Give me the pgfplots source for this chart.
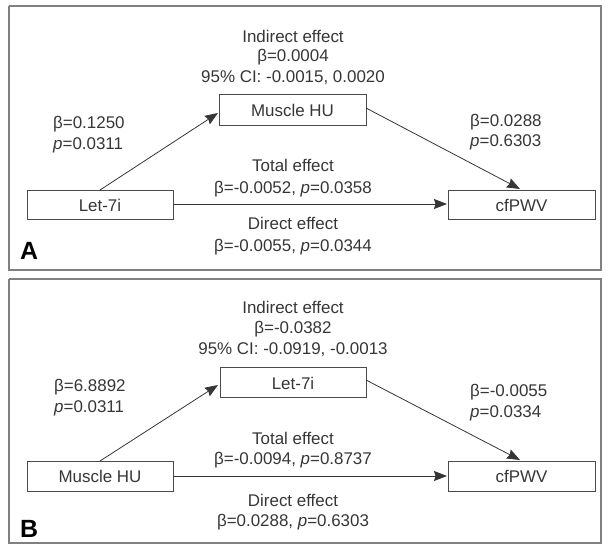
\documentclass[border=0pt]{standalone}
\usepackage{pgfplots}
\pgfplotsset{compat=1.18}
\usepackage{fontspec}
\setmainfont{Liberation Sans}
\usetikzlibrary{arrows.meta}
\definecolor{txt}{HTML}{363636}
\definecolor{frm}{HTML}{808080}
\tikzset{lab/.style={font=\fontsize{17}{19}\selectfont, text=txt, inner sep=0pt, anchor=center},
  labw/.style={lab, anchor=west},
  pan/.style={font=\fontsize{25}{27}\selectfont\bfseries, text=black, inner sep=0pt, anchor=west},
  arr/.style={draw=txt, line width=0.8bp, -{Stealth[length=13bp,width=10bp,inset=1.5bp]}},
  box/.style={draw=txt!90, line width=1bp},
  fr/.style={draw=frm, line width=1.5bp}}
\begin{document}
\begin{tikzpicture}
\begin{axis}[scale only axis, width=608bp, height=545bp,
  xmin=0, xmax=608, ymin=0, ymax=545, y dir=reverse,
  hide axis, clip=false]
% invisible extent
\addplot[draw=none] coordinates {(0,0) (608,545)};
% ---------- Panel A ----------
\addplot[fr] coordinates {(9,6) (601,6) (601,270) (9,270) (9,6)};
\addplot[box] coordinates {(219,95) (366,95) (366,125) (219,125) (219,95)};
\addplot[box] coordinates {(27,190) (173,190) (173,219) (27,219) (27,190)};
\addplot[box] coordinates {(448,190) (595,190) (595,219) (448,219) (448,190)};
\addplot[arr] coordinates {(100,190) (218,113)};
\addplot[arr] coordinates {(366,108) (520,189)};
\addplot[arr] coordinates {(173,204) (447,204)};
\node[lab] at (axis cs:293,36) {Indirect effect};
\node[lab] at (axis cs:293,57) {β=0.0004};
\node[lab] at (axis cs:293,78) {95\% CI: -0.0015, 0.0020};
\node[lab] at (axis cs:292.5,110) {Muscle HU};
\node[labw] at (axis cs:53,124) {β=0.1250};
\node[labw] at (axis cs:53,145) {\textit{p}=0.0311};
\node[labw] at (axis cs:470,122) {β=0.0288};
\node[labw] at (axis cs:470,142) {\textit{p}=0.6303};
\node[lab] at (axis cs:293,165) {Total effect};
\node[lab] at (axis cs:293,189) {β=-0.0052, \textit{p}=0.0358};
\node[lab] at (axis cs:100,205) {Let-7i};
\node[lab] at (axis cs:521.5,205) {cfPWV};
\node[lab] at (axis cs:293,223) {Direct effect};
\node[lab] at (axis cs:293,247) {β=-0.0055, \textit{p}=0.0344};
\node[pan] at (axis cs:20,251) {A};
% ---------- Panel B ----------
\addplot[fr] coordinates {(9,279) (601,279) (601,543) (9,543) (9,279)};
\addplot[box] coordinates {(220,367) (366,367) (366,397) (220,397) (220,367)};
\addplot[box] coordinates {(27,461) (173,461) (173,491) (27,491) (27,461)};
\addplot[box] coordinates {(448,461) (595,461) (595,491) (448,491) (448,461)};
\addplot[arr] coordinates {(100,461) (218,385)};
\addplot[arr] coordinates {(366,380) (520,460)};
\addplot[arr] coordinates {(173,476) (447,476)};
\node[lab] at (axis cs:293,307) {Indirect effect};
\node[lab] at (axis cs:293,329) {β=-0.0382};
\node[lab] at (axis cs:293,350) {95\% CI: -0.0919, -0.0013};
\node[lab] at (axis cs:293,383) {Let-7i};
\node[labw] at (axis cs:54,387) {β=6.8892};
\node[labw] at (axis cs:54,408) {\textit{p}=0.0311};
\node[labw] at (axis cs:470,392) {β=-0.0055};
\node[labw] at (axis cs:470,413) {\textit{p}=0.0334};
\node[lab] at (axis cs:293,438) {Total effect};
\node[lab] at (axis cs:293,460) {β=-0.0094, \textit{p}=0.8737};
\node[lab] at (axis cs:100,476) {Muscle HU};
\node[lab] at (axis cs:521.5,476) {cfPWV};
\node[lab] at (axis cs:293,500) {Direct effect};
\node[lab] at (axis cs:293,522) {β=0.0288, \textit{p}=0.6303};
\node[pan] at (axis cs:20,529) {B};
\end{axis}
\end{tikzpicture}
\end{document}
